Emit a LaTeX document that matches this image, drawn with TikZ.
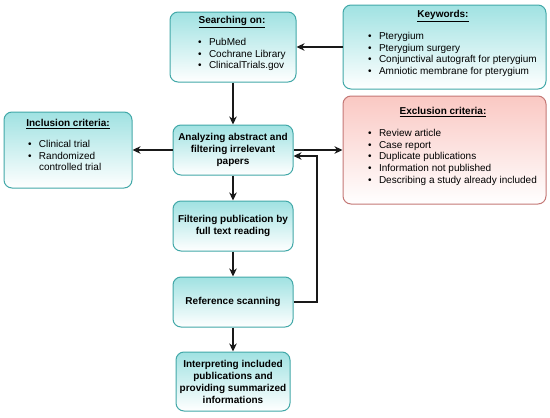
\documentclass[tikz,border=0pt]{standalone}
\usepackage{fontspec}
\setmainfont{Liberation Sans}
\usetikzlibrary{arrows.meta}
\definecolor{tealtop}{RGB}{160,226,226}
\definecolor{tealline}{RGB}{66,168,168}
\definecolor{redtop}{RGB}{250,200,195}
\definecolor{redline}{RGB}{196,120,118}
\definecolor{arrcol}{RGB}{25,25,25}
\tikzset{
  box/.style={draw=tealline, line width=1pt, rounded corners=8pt, top color=tealtop, bottom color=white, inner sep=0pt},
  redbox/.style={draw=redline, line width=1pt, rounded corners=8pt, top color=redtop, bottom color=white, inner sep=0pt},
  flowtxt/.style={align=center, font=\fontsize{10}{12}\selectfont\bfseries, inner sep=0pt},
  headtxt/.style={anchor=base, font=\fontsize{10}{11.7}\selectfont\bfseries, inner sep=0pt},
  listtxt/.style={anchor=base west, font=\fontsize{10}{11.7}\selectfont, inner sep=0pt},
  arr/.style={draw=arrcol, line width=1.4pt, -{Stealth[length=8pt,width=7.5pt,inset=2.5pt]}},
}
\newcommand{\blist}[1]{\begin{tabular}[t]{@{}l@{\hspace{7.3pt}}l@{}}#1\end{tabular}}
\newcommand{\hd}[1]{\underline{#1}}
\begin{document}
\begin{tikzpicture}[x=1pt,y=-1pt]
\useasboundingbox (0,0) rectangle (550,418);
% boxes
\node[box, minimum width=126pt, minimum height=70pt] (search) at (233,47) {};
\node[box, minimum width=203pt, minimum height=84pt] (keys) at (444.5,47) {};
\node[box, minimum width=128pt, minimum height=76pt] (incl) at (68,150) {};
\node[redbox, minimum width=203pt, minimum height=108pt] (excl) at (444.5,150) {};
\node[box, minimum width=120pt, minimum height=50pt, flowtxt] (anal) at (233,150) {Analyzing abstract and\\filtering irrelevant\\papers};
\node[box, minimum width=120pt, minimum height=50pt, flowtxt] (filt) at (233,226) {Filtering publication by\\full text reading};
\node[box, minimum width=120pt, minimum height=50pt, flowtxt] (refs) at (233,302) {Reference scanning};
\node[box, minimum width=114pt, minimum height=59pt, flowtxt] (interp) at (233,381.5) {Interpreting included\\publications and\\providing summarized\\informations};
% headings and lists
\node[headtxt] (searchH) at (232,23.5) {\hd{Searching on:}};
\node[listtxt] (searchL) at (198,45.5) {\blist{\textbullet & PubMed\\ \textbullet & Cochrane Library\\ \textbullet & ClinicalTrials.gov}};
\node[headtxt] (keysH) at (443,17.5) {\hd{Keywords:}};
\node[listtxt] (keysL) at (368,39.5) {\blist{\textbullet & Pterygium\\ \textbullet & Pterygium surgery\\ \textbullet & Conjunctival autograft for pterygium\\ \textbullet & Amniotic membrane for pterygium}};
\node[headtxt] (inclH) at (68,126.5) {\hd{Inclusion criteria:}};
\node[listtxt] (inclL) at (28,147.5) {\blist{\textbullet & Clinical trial\\ \textbullet & Randomized\\ & controlled trial}};
\node[headtxt] (exclH) at (443,114.5) {\hd{Exclusion criteria:}};
\node[listtxt] (exclL) at (368,136.5) {\blist{\textbullet & Review article\\ \textbullet & Case report\\ \textbullet & Duplicate publications\\ \textbullet & Information not published\\ \textbullet & Describing a study already included}};
% connectors
\coordinate (loopc) at (317,156);
\draw[arr] (keys.west) -- (search.east);
\draw[arr] (search.south) -- (anal.north);
\draw[arr] (anal.west) -- (incl.east);
\draw[arr] (anal.east) -- (excl.west);
\draw[arr] (anal.south) -- (filt.north);
\draw[arr] (filt.south) -- (refs.north);
\draw[arr] (refs.south) -- (interp.north);
\draw[arr] (refs.east) -| (loopc) -- ([yshift=-6pt]anal.east);
\end{tikzpicture}
\end{document}
